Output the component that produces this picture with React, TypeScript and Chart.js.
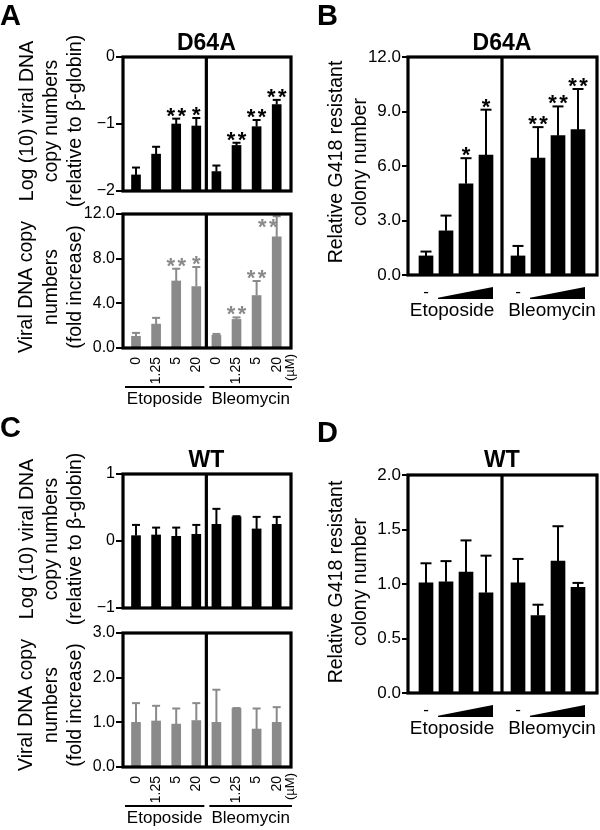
import React, { useEffect, useRef } from 'react';
import { Chart, registerables } from 'chart.js';

Chart.register(...registerables);

// ---------------- data ----------------
const doseLabels = ['0', '1.25', '5', '20', '0', '1.25', '5', '20'];
const doseUnit = '(µM)';
const drugNames = ['Etoposide', 'Bleomycin'];
const noDrugLabel = '-';

// Panel A top: D64A, log10 viral DNA copy numbers
const d64aLogValues = [-1.76, -1.45, -1.0, -1.03, -1.71, -1.32, -1.04, -0.71];
const d64aLogErrors = [0.11, 0.11, 0.08, 0.12, 0.09, 0.04, 0.1, 0.07];
const d64aLogStars = ['', '', '**', '*', '', '**', '**', '**'];
const d64aLogTicks = [-2, -1, 0];
const d64aLogTickLabels = ['−2', '−1', '0'];

// Panel A bottom: D64A, fold increase
const d64aFoldValues = [1.05, 2.14, 6.0, 5.5, 1.14, 2.56, 4.7, 9.95];
const d64aFoldErrors = [0.3, 0.56, 1.1, 1.75, 0.12, 0.18, 1.3, 1.85];
const d64aFoldStars = ['', '', '**', '*', '', '**', '**', '**'];
const d64aFoldTicks = [0, 4, 8, 12];
const d64aFoldTickLabels = ['0.0', '4.0', '8.0', '12.0'];

// Panel B: D64A, relative G418 resistant colony number
const d64aColonyValues = [1.05, 2.43, 5.02, 6.6, 1.05, 6.43, 7.67, 8.0];
const d64aColonyErrors = [0.24, 0.84, 1.41, 2.5, 0.55, 1.71, 1.61, 2.24];
const d64aColonyStars = ['', '', '*', '*', '', '**', '**', '**'];
const d64aColonyTicks = [0, 3, 6, 9, 12];
const d64aColonyTickLabels = ['0.0', '3.0', '6.0', '9.0', '12.0'];

// Panel C top: WT, log10 viral DNA copy numbers
const wtLogValues = [0.08, 0.09, 0.07, 0.1, 0.25, 0.36, 0.18, 0.25];
const wtLogErrors = [0.16, 0.11, 0.13, 0.14, 0.23, 0.01, 0.18, 0.11];
const wtLogStars = ['', '', '', '', '', '', '', ''];
const wtLogTicks = [-1, 0, 1];
const wtLogTickLabels = ['−1', '0', '1'];

// Panel C bottom: WT, fold increase
const wtFoldValues = [1.0, 1.03, 0.96, 1.04, 1.0, 1.31, 0.85, 1.0];
const wtFoldErrors = [0.43, 0.34, 0.35, 0.39, 0.73, 0.01, 0.46, 0.34];
const wtFoldStars = ['', '', '', '', '', '', '', ''];
const wtFoldTicks = [0, 1, 2, 3];
const wtFoldTickLabels = ['0.0', '1.0', '2.0', '3.0'];

// Panel D: WT, relative G418 resistant colony number
const wtColonyValues = [1.01, 1.02, 1.11, 0.92, 1.01, 0.71, 1.21, 0.97];
const wtColonyErrors = [0.18, 0.19, 0.29, 0.34, 0.22, 0.1, 0.32, 0.04];
const wtColonyStars = ['', '', '', '', '', '', '', ''];
const wtColonyTicks = [0, 0.5, 1, 1.5, 2];
const wtColonyTickLabels = ['0.0', '0.5', '1.0', '1.5', '2.0'];

const logTitle = ['Log (10) viral DNA', 'copy numbers', '(relative to β-globin)'];
const foldTitle = ['Viral DNA copy', 'numbers', '(fold increase)'];
const colonyTitle = ['Relative G418 resistant', 'colony number'];

// ---------------- styles ----------------
const FONT = '"Liberation Sans", Arial, Helvetica, sans-serif';
const BLACK = '#000000';
const GREY = '#8a8a8a';

type Area = { l: number; t: number; r: number; b: number };
type PanelCfg = {
  area: Area;
  yMin: number;
  yMax: number;
  ticks: number[];
  tickLabels: string[];
  tickSize: number;
  tickLength: number;
  values: number[];
  errors: number[];
  stars: string[];
  color: string;
  barWidth: number;
  capWidth: number;
  xMin: number;
  xMax: number;
  gap: number;
  letter?: { text: string; x: number; y: number };
  title?: { text: string; y: number };
  yTitle: { lines: string[]; xs: number[]; y: number };
  bottom: 'none' | 'dose' | 'wedge';
};

const smallX = { xMin: -0.647, xMax: 7.711, gap: 0, barWidth: 9, capWidth: 8 };
const bigX = { xMin: -0.9, xMax: 8.55, gap: 0.6, barWidth: 14, capWidth: 11 };

const panels: PanelCfg[] = [
  {
    area: { l: 123, t: 57, r: 291, b: 191 },
    yMin: -2, yMax: 0, ticks: d64aLogTicks, tickLabels: d64aLogTickLabels, tickSize: 16, tickLength: 7,
    values: d64aLogValues, errors: d64aLogErrors, stars: d64aLogStars, color: BLACK,
    ...smallX,
    letter: { text: 'A', x: 0, y: 25 },
    title: { text: 'D64A', y: 50 },
    yTitle: { lines: logTitle, xs: [28, 52, 76], y: 121 },
    bottom: 'none',
  },
  {
    area: { l: 123, t: 214, r: 291, b: 348 },
    yMin: 0, yMax: 12, ticks: d64aFoldTicks, tickLabels: d64aFoldTickLabels, tickSize: 16, tickLength: 7,
    values: d64aFoldValues, errors: d64aFoldErrors, stars: d64aFoldStars, color: GREY,
    ...smallX,
    yTitle: { lines: foldTitle, xs: [27, 51.5, 75.5], y: 287 },
    bottom: 'dose',
  },
  {
    area: { l: 408, t: 57, r: 597, b: 275 },
    yMin: 0, yMax: 12, ticks: d64aColonyTicks, tickLabels: d64aColonyTickLabels, tickSize: 17, tickLength: 6,
    values: d64aColonyValues, errors: d64aColonyErrors, stars: d64aColonyStars, color: BLACK,
    ...bigX,
    letter: { text: 'B', x: 317, y: 25 },
    title: { text: 'D64A', y: 50 },
    yTitle: { lines: colonyTitle, xs: [337, 361], y: 162 },
    bottom: 'wedge',
  },
  {
    area: { l: 123, t: 474, r: 291, b: 608 },
    yMin: -1, yMax: 1, ticks: wtLogTicks, tickLabels: wtLogTickLabels, tickSize: 16, tickLength: 7,
    values: wtLogValues, errors: wtLogErrors, stars: wtLogStars, color: BLACK,
    ...smallX,
    letter: { text: 'C', x: 0, y: 437 },
    title: { text: 'WT', y: 467 },
    yTitle: { lines: logTitle, xs: [28, 52, 76], y: 539 },
    bottom: 'none',
  },
  {
    area: { l: 123, t: 633, r: 291, b: 767 },
    yMin: 0, yMax: 3, ticks: wtFoldTicks, tickLabels: wtFoldTickLabels, tickSize: 16, tickLength: 7,
    values: wtFoldValues, errors: wtFoldErrors, stars: wtFoldStars, color: GREY,
    ...smallX,
    yTitle: { lines: foldTitle, xs: [27, 51.5, 75.5], y: 705 },
    bottom: 'dose',
  },
  {
    area: { l: 408, t: 475, r: 597, b: 693 },
    yMin: 0, yMax: 2, ticks: wtColonyTicks, tickLabels: wtColonyTickLabels, tickSize: 17, tickLength: 6,
    values: wtColonyValues, errors: wtColonyErrors, stars: wtColonyStars, color: BLACK,
    ...bigX,
    letter: { text: 'D', x: 317, y: 442 },
    title: { text: 'WT', y: 467 },
    yTitle: { lines: colonyTitle, xs: [337, 361], y: 582 },
    bottom: 'wedge',
  },
];

function decoPlugin(p: PanelCfg) {
  return {
    id: 'panelDeco',
    afterDatasetsDraw(chart: any) {
      const ctx: CanvasRenderingContext2D = chart.ctx;
      const { left, right, top, bottom } = chart.chartArea;
      const ys = chart.scales.y;
      const meta = chart.getDatasetMeta(0);
      ctx.save();
      // error bars (upper only)
      ctx.strokeStyle = p.color;
      ctx.lineWidth = 2;
      p.values.forEach((v, i) => {
        const bar = meta.data[i];
        const cx = bar.x;
        const y0 = ys.getPixelForValue(v);
        const y1 = ys.getPixelForValue(v + p.errors[i]);
        ctx.beginPath();
        ctx.moveTo(cx, y0);
        ctx.lineTo(cx, y1);
        ctx.stroke();
        ctx.beginPath();
        ctx.moveTo(cx - p.capWidth / 2, y1);
        ctx.lineTo(cx + p.capWidth / 2, y1);
        ctx.stroke();
      });
      // frame and divider
      ctx.strokeStyle = BLACK;
      ctx.lineWidth = 3.2;
      ctx.strokeRect(left, top, right - left, bottom - top);
      const dx = (meta.data[3].x + meta.data[4].x) / 2;
      ctx.beginPath();
      ctx.moveTo(dx, top);
      ctx.lineTo(dx, bottom);
      ctx.stroke();
      ctx.restore();
    },
    afterDraw(chart: any) {
      const ctx: CanvasRenderingContext2D = chart.ctx;
      const { left, right, top, bottom } = chart.chartArea;
      const ys = chart.scales.y;
      const meta = chart.getDatasetMeta(0);
      const dx = (meta.data[3].x + meta.data[4].x) / 2;
      ctx.save();

      // significance stars
      ctx.fillStyle = p.color;
      ctx.font = `bold 22px ${FONT}`;
      ctx.textAlign = 'center';
      ctx.textBaseline = 'alphabetic';
      const m = ctx.measureText('*');
      const desc = m.actualBoundingBoxDescent;
      const inkH = m.actualBoundingBoxAscent + desc;
      p.stars.forEach((s, i) => {
        if (!s) return;
        let cx = meta.data[i].x;
        let by = ys.getPixelForValue(p.values[i] + p.errors[i]) - 2;
        if (by - inkH < top + 2) {
          cx -= 9;
          by = top + 14;
        }
        const n = s.length;
        for (let k = 0; k < n; k++) {
          ctx.fillText('*', cx + (k - (n - 1) / 2) * 11, by - desc);
        }
      });

      ctx.fillStyle = BLACK;
      // panel letter
      if (p.letter) {
        ctx.font = `bold 29px ${FONT}`;
        ctx.textAlign = 'left';
        ctx.fillText(p.letter.text, p.letter.x, p.letter.y);
      }
      // panel title
      if (p.title) {
        ctx.font = `bold 23px ${FONT}`;
        ctx.textAlign = 'center';
        ctx.fillText(p.title.text, dx, p.title.y);
      }
      // y-axis title (rotated, multi-line)
      ctx.font = `19.5px ${FONT}`;
      ctx.textAlign = 'center';
      ctx.textBaseline = 'middle';
      p.yTitle.lines.forEach((line, k) => {
        ctx.save();
        ctx.translate(p.yTitle.xs[k], p.yTitle.y);
        ctx.rotate(-Math.PI / 2);
        ctx.fillText(line, 0, 0);
        ctx.restore();
      });

      if (p.bottom === 'dose') {
        ctx.font = `14px ${FONT}`;
        ctx.textAlign = 'right';
        ctx.textBaseline = 'middle';
        doseLabels.forEach((lab, i) => {
          ctx.save();
          ctx.translate(meta.data[i].x, bottom + 9);
          ctx.rotate(-Math.PI / 2);
          ctx.fillText(lab, 0, 0);
          ctx.restore();
        });
        ctx.font = `13px ${FONT}`;
        ctx.save();
        ctx.translate(right - 1, bottom + 6);
        ctx.rotate(-Math.PI / 2);
        ctx.fillText(doseUnit, 0, 0);
        ctx.restore();
        // group underlines
        ctx.strokeStyle = BLACK;
        ctx.lineWidth = 2;
        ctx.beginPath();
        ctx.moveTo(left + 2, bottom + 39);
        ctx.lineTo(dx - 2, bottom + 39);
        ctx.moveTo(dx + 3, bottom + 39);
        ctx.lineTo(right + 1, bottom + 39);
        ctx.stroke();
        ctx.font = `17px ${FONT}`;
        ctx.textAlign = 'center';
        ctx.textBaseline = 'alphabetic';
        ctx.fillText(drugNames[0], (left + dx) / 2, bottom + 56);
        ctx.fillText(drugNames[1], (dx + right) / 2 + 2, bottom + 56);
      }

      if (p.bottom === 'wedge') {
        const hw = p.barWidth / 2;
        ctx.font = `17px ${FONT}`;
        ctx.textAlign = 'center';
        ctx.textBaseline = 'middle';
        [0, 4].forEach((g) => {
          ctx.fillText(noDrugLabel, meta.data[g].x, bottom + 17);
          const x1 = meta.data[g + 1].x - 8;
          const x2 = meta.data[g + 3].x + hw;
          ctx.beginPath();
          ctx.moveTo(x1, bottom + 24);
          ctx.lineTo(x1, bottom + 22.8);
          ctx.lineTo(x2, bottom + 12);
          ctx.lineTo(x2, bottom + 24);
          ctx.closePath();
          ctx.fill();
        });
        ctx.font = `19px ${FONT}`;
        ctx.textBaseline = 'alphabetic';
        ctx.fillText(drugNames[0], dx - 50, bottom + 41);
        ctx.fillText(drugNames[1], dx + 50, bottom + 41);
      }
      ctx.restore();
    },
  };
}

function buildConfig(p: PanelCfg): any {
  const pos = (i: number) => i + (i >= 4 ? p.gap : 0);
  return {
    type: 'bar',
    data: {
      datasets: [
        {
          data: p.values.map((v, i) => ({ x: pos(i), y: [p.yMin, v] })),
          backgroundColor: p.color,
          borderWidth: 0,
          barThickness: p.barWidth,
        },
      ],
    },
    options: {
      responsive: false,
      animation: false,
      devicePixelRatio: 1,
      events: [],
      layout: {
        padding: { left: 0, top: p.area.t, right: 600 - p.area.r, bottom: 830 - p.area.b },
      },
      plugins: {
        legend: { display: false },
        tooltip: { enabled: false },
        title: { display: false },
      },
      scales: {
        x: { type: 'linear', display: false, min: p.xMin, max: p.xMax, offset: false },
        y: {
          type: 'linear',
          position: 'left',
          min: p.yMin,
          max: p.yMax,
          afterFit: (s: any) => {
            s.width = p.area.l;
          },
          afterBuildTicks: (s: any) => {
            s.ticks = p.ticks.map((v) => ({ value: v }));
          },
          ticks: {
            autoSkip: false,
            padding: 1,
            color: BLACK,
            font: { family: FONT, size: p.tickSize },
            callback: (_v: any, i: number) => p.tickLabels[i],
          },
          grid: {
            drawOnChartArea: false,
            drawTicks: true,
            tickLength: p.tickLength,
            tickWidth: 2,
            tickColor: BLACK,
            color: BLACK,
            lineWidth: 2,
          },
          border: { display: false },
        },
      },
    },
    plugins: [decoPlugin(p)],
  };
}

function PanelChart({ cfg }: { cfg: PanelCfg }) {
  const ref = useRef<HTMLCanvasElement>(null);
  useEffect(() => {
    const canvas = ref.current;
    if (!canvas) return;
    const chart = new Chart(canvas, buildConfig(cfg));
    return () => chart.destroy();
  }, [cfg]);
  return (
    <canvas
      ref={ref}
      width={600}
      height={830}
      style={{ position: 'absolute', left: 0, top: 0, width: 600, height: 830 }}
    />
  );
}

export default function App() {
  return (
    <div style={{ position: 'absolute', left: 0, top: 0, width: 600, height: 830, background: '#ffffff' }}>
      {panels.map((cfg, i) => (
        <PanelChart key={i} cfg={cfg} />
      ))}
    </div>
  );
}
